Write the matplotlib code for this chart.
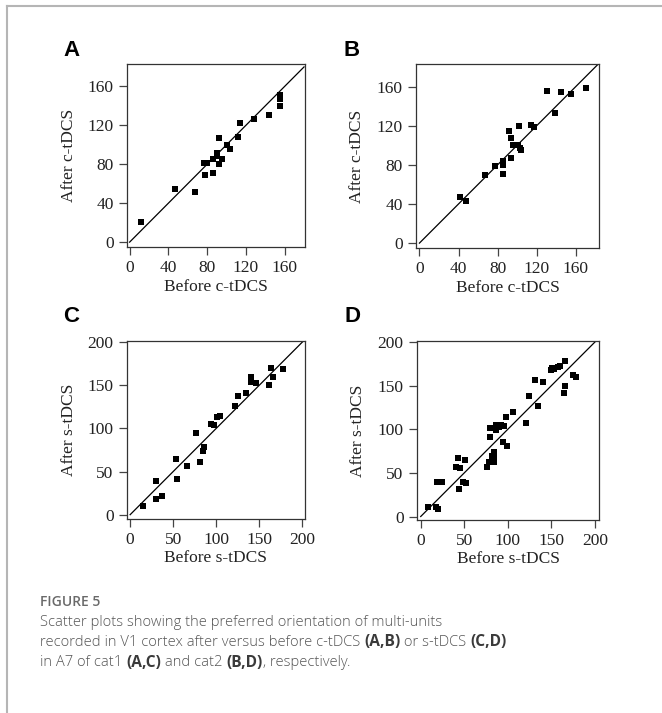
import numpy as np
import matplotlib
matplotlib.use("Agg")
import matplotlib.pyplot as plt
from matplotlib.lines import Line2D

# panel A: cat1, c-tDCS
a_before = [12, 47, 67, 78, 77, 80, 86, 86, 90, 90.5, 92.5, 92, 95, 101, 103.5, 112, 114, 128.5, 144, 155, 155, 155]
a_after = [21, 55, 52, 69, 81, 81, 71, 85, 92, 88.5, 107, 80, 85, 100, 95.5, 108.5, 122, 126, 131, 151, 147.5, 140]

# panel B: cat2, c-tDCS
b_before = [42, 48, 67, 77.5, 85, 85, 85, 94, 92, 93.5, 96, 100.7, 102, 103, 104, 114, 117, 131, 139, 145, 155, 170]
b_after = [47.5, 43, 70, 79, 84, 80, 70.5, 86.5, 115, 107, 100.5, 100.5, 120, 97, 95, 121, 118.5, 155, 133, 154, 152.5, 158]

# panel C: cat1, s-tDCS
c_before = [15, 30, 30, 37, 53, 54, 66, 77, 81, 85, 86, 94, 97, 101, 104, 121.5, 125, 135, 140.5, 140.5, 146, 161, 163, 166, 178]
c_after = [10, 38.5, 18.5, 22, 64, 41, 56, 95, 61, 73.5, 78, 105.5, 104, 113, 114, 126, 138, 141, 160, 154, 152, 150, 170, 159, 169]

# panel D: cat2, s-tDCS
d_before = [8, 17, 20, 19, 24, 41, 43, 45, 44, 49, 52, 51, 76, 78, 79.5, 80, 82, 84, 84, 84, 86, 86,
            89.5, 92, 94, 96, 98, 99, 106, 121, 124, 131.5, 135, 140, 150, 151, 153, 158, 160, 165.6,
            164.5, 166, 175, 178]
d_after = [11, 11, 9, 39, 40, 57, 67, 56, 32, 39, 38, 64.5, 56.5, 62, 101, 91.6, 69.5, 62, 74, 68.7, 99, 105,
           103, 105, 85.5, 104, 114.5, 81, 119.5, 107, 138.5, 156, 127, 154, 168, 170.6, 169.5, 171, 173, 178.6,
           142, 150, 162, 159.5]

caption_lines = [
    [("Scatter plots showing the preferred orientation of multi-units", False)],
    [("recorded in V1 cortex after versus before c-tDCS ", False), ("(A,B)", True),
     (" or s-tDCS ", False), ("(C,D)", True)],
    [("in A7 of cat1 ", False), ("(A,C)", True), (" and cat2 ", False), ("(B,D)", True),
     (", respectively.", False)],
]

W, H = 662, 713
fig = plt.figure(figsize=(W / 100, H / 100), dpi=100)

def px_axes(left, top, right, bottom):
    return fig.add_axes([left / W, 1 - bottom / H, (right - left) / W, (bottom - top) / H])

serif = "Liberation Serif"
fs = 12.5

def panel(ax, x, y, xlim, ylim, ticks, line_end, xlabel, ylabel):
    ax.scatter(x, y, marker="s", s=15, color="black", linewidths=0, zorder=3)
    ax.plot([0, line_end], [0, line_end], color="black", lw=0.9, zorder=2)
    ax.set_xlim(*xlim)
    ax.set_ylim(*ylim)
    ax.set_xticks(ticks)
    ax.set_yticks(ticks)
    ax.tick_params(direction="out", length=5.5, width=0.9, color="#444444", pad=4,
                   labelsize=fs, labelcolor="#222222")
    for lab in ax.get_xticklabels() + ax.get_yticklabels():
        lab.set_fontfamily(serif)
    for sp in ax.spines.values():
        sp.set_linewidth(0.9)
        sp.set_color("#333333")
    ax.set_xlabel(xlabel, fontsize=fs, family=serif, color="#222222")
    ax.set_ylabel(ylabel, fontsize=fs, family=serif, color="#222222")
    ax.xaxis.set_label_coords(0.5, -0.175)
    ax.yaxis.set_label_coords(-0.28, 0.5)

axA = px_axes(126.7, 64, 305, 247)
panel(axA, a_before, a_after, (-3, 181), (-5, 183), [0, 40, 80, 120, 160], 180,
      "Before c-tDCS", "After c-tDCS")
axB = px_axes(416, 64, 599.3, 248)
panel(axB, b_before, b_after, (-3.5, 184), (-5, 183), [0, 40, 80, 120, 160], 182,
      "Before c-tDCS", "After c-tDCS")
axC = px_axes(126.7, 340.7, 305, 519)
panel(axC, c_before, c_after, (-4, 203), (-5, 201.5), [0, 50, 100, 150, 200], 200,
      "Before s-tDCS", "After s-tDCS")
axD = px_axes(416.7, 340.7, 599.3, 520)
panel(axD, d_before, d_after, (-4.6, 205), (-4, 201.5), [0, 50, 100, 150, 200], 200,
      "Before s-tDCS", "After s-tDCS")

# panel letters
for letter, (px, py) in zip("ABCD", [(71, 51), (352, 51), (71, 316), (352, 316)]):
    fig.text(px / W, 1 - py / H, letter, ha="center", va="center", fontsize=16,
             fontweight="bold", family="Liberation Sans", color="black")

# page frame lines
fig.add_artist(Line2D([7 / W, 1], [1 - 6 / H, 1 - 6 / H], color="#b5b5b5", lw=1.5))
fig.add_artist(Line2D([7 / W, 7 / W], [1 - 6 / H, 0], color="#b5b5b5", lw=1.5))

# caption
cap_font = "Open Sans"
fig.text(40 / W, 1 - 602 / H, "FIGURE 5", ha="left", va="center", fontsize=10,
         family=cap_font, fontweight="semibold", color="#6a6a6a")

# pieces are placed one after another, measuring each width with the renderer
renderer = fig.canvas.get_renderer()
for i, parts in enumerate(caption_lines):
    yc = 1 - (622 + 20.5 * i) / H
    x = 40 / W
    for txt, bold in parts:
        t = fig.text(x, yc, txt, ha="left", va="center", fontsize=11.2 if bold else 10.6,
                     family=cap_font, fontweight="bold" if bold else "light",
                     color="#3a3a3a" if bold else "#555555")
        x = t.get_window_extent(renderer).x1 / W

fig.savefig("out.png", dpi=100, facecolor="white")
